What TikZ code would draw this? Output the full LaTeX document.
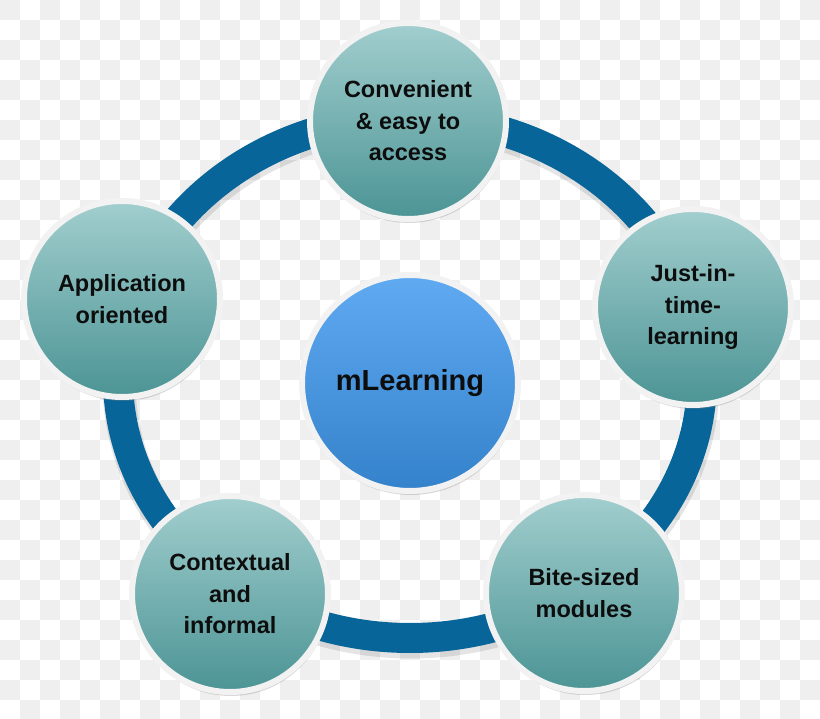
\documentclass[tikz,border=0pt]{standalone}
\usepackage{fontspec}
\setmainfont{Liberation Sans}
\usetikzlibrary{shadows}
\definecolor{ringc}{RGB}{8,101,153}
\definecolor{checkgray}{RGB}{239,239,239}
\definecolor{tealtop}{RGB}{162,206,206}
\definecolor{tealbot}{RGB}{76,148,149}
\definecolor{bluetop}{RGB}{96,170,242}
\definecolor{bluebot}{RGB}{52,130,203}
\definecolor{rimc}{RGB}{242,242,242}
\tikzset{
  bubble/.style={circle, minimum size=196pt, inner sep=0pt, line width=6pt,
    draw=rimc, top color=tealtop, bottom color=tealbot,
    drop shadow={opacity=0.3, shadow xshift=1pt, shadow yshift=-4pt},
    font=\bfseries\fontsize{23.5}{31.5}\selectfont, align=center, text=black!95},
  hub/.style={bubble, minimum size=216pt, top color=bluetop, bottom color=bluebot,
    font=\bfseries\fontsize{29}{34}\selectfont}
}
\begin{document}
\begin{tikzpicture}[x=1pt,y=-1pt]
\useasboundingbox (0,0) rectangle (820,719);
\fill[white] (0,0) rectangle (820,719);
\foreach \i in {0,...,40} {
  \foreach \j in {0,...,35} {
    \pgfmathtruncatemacro\cpar{mod(\i+\j,2)}
    \ifnum\cpar=0 \fill[checkgray] (\i*20,\j*20) rectangle ++(20,20); \fi
  }
}
% ring
\draw[black, opacity=0.10, line width=33pt] (411,382) ellipse [x radius=292, y radius=260];
\draw[ringc, line width=30pt] (410,378) ellipse [x radius=292, y radius=260];
% nodes
\node[bubble] (conv) at (408,121) {Convenient\\\& easy to\\access};
\node[bubble] (just) at (693,307) {Just-in-\\time-\\learning};
\node[bubble] (bite) at (584,593) {Bite-sized\\modules};
\node[bubble] (ctx) at (230,594) {Contextual\\and\\informal};
\node[bubble] (app) at (122,299) {Application\\oriented};
\node[hub] (hub) at (410,383) {mLearning};
\end{tikzpicture}
\end{document}
